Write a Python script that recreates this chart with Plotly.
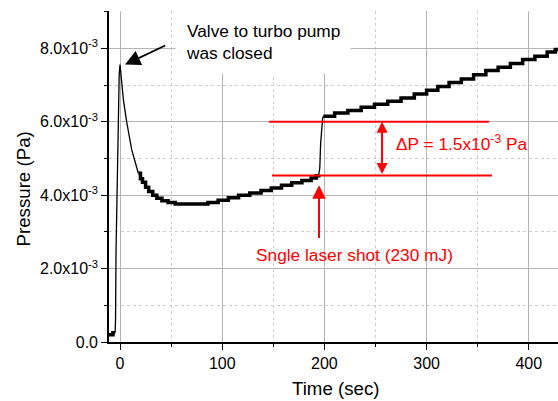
import plotly.graph_objects as go

# ---------------- data ----------------
# baseline before the valve closed
base_time = [-10.8, -7.0, -4.8]
base_p = [0.20e-3, 0.25e-3, 0.25e-3]

# fast transient: rise and decay after closing the valve
rise_time = [-4.8, -4.4, -3.9, -2.6, -1.7, -0.8, 0.0, 1.5, 3.3, 6.5, 11.4, 17.9]
rise_p = [0.25e-3, 0.6e-3, 2.5e-3, 5.1e-3, 6.8e-3, 7.3e-3, 7.56e-3, 7.1e-3,
          6.6e-3, 6.0e-3, 5.24e-3, 4.6e-3]

# slow (stepped) recovery before the laser shot
slow1_time = [17.9, 20, 22, 25, 28, 32, 36, 41, 47, 54, 86, 96, 106, 116, 127,
              138, 148, 158, 168, 178, 187, 192, 194.5]
slow1_p = [4.6e-3, 4.45e-3, 4.35e-3, 4.22e-3, 4.1e-3, 4.0e-3, 3.92e-3, 3.85e-3,
           3.8e-3, 3.76e-3, 3.8e-3, 3.86e-3, 3.93e-3, 4.0e-3, 4.06e-3, 4.13e-3,
           4.2e-3, 4.27e-3, 4.34e-3, 4.4e-3, 4.47e-3, 4.53e-3, 4.56e-3]

# jump caused by the laser shot
jump_time = [194.5, 195.5, 196.3, 197.2, 198.2, 199]
jump_p = [4.56e-3, 4.75e-3, 5.4e-3, 5.9e-3, 6.08e-3, 6.15e-3]

# slow (stepped) rise after the shot
slow2_time = [199, 210, 223, 236, 249, 262, 275, 288, 300, 311, 322, 334, 346,
              358, 370, 382, 394, 406, 418, 426, 430]
slow2_p = [6.15e-3, 6.24e-3, 6.31e-3, 6.40e-3, 6.48e-3, 6.56e-3, 6.65e-3,
           6.76e-3, 6.86e-3, 6.96e-3, 7.07e-3, 7.17e-3, 7.28e-3, 7.40e-3,
           7.49e-3, 7.59e-3, 7.70e-3, 7.79e-3, 7.90e-3, 7.97e-3, 7.97e-3]

# axis ticks
x_ticks = [0, 100, 200, 300, 400]
y_tickvals = [0, 2e-3, 4e-3, 6e-3, 8e-3]
y_ticktext = ["0.0", "2.0x10<sup>-3</sup>", "4.0x10<sup>-3</sup>",
              "6.0x10<sup>-3</sup>", "8.0x10<sup>-3</sup>"]

# markers of the pressure step
p_before = 4.54e-3
p_after = 6.0e-3
t_shot = 194.7

FONT = "Arial, 'Liberation Sans', sans-serif"
RED = "#ff0000"

fig = go.Figure()

# thick stepped traces
thick_t = base_time + [None] + slow1_time + [None] + slow2_time
thick_p = base_p + [None] + slow1_p + [None] + slow2_p
fig.add_trace(go.Scatter(x=thick_t, y=thick_p, mode="lines",
                         line=dict(color="black", width=3.5, shape="hv"),
                         connectgaps=False, hoverinfo="skip"))
# thin fast-changing traces
thin_t = rise_time + [None] + jump_time
thin_p = rise_p + [None] + jump_p
fig.add_trace(go.Scatter(x=thin_t, y=thin_p, mode="lines",
                         line=dict(color="black", width=1.3),
                         connectgaps=False, hoverinfo="skip"))

# red reference lines
fig.add_shape(type="line", x0=145.8, x1=361, y0=p_after, y1=p_after,
              xref="x", yref="y", line=dict(color=RED, width=2))
fig.add_shape(type="line", x0=148.7, x1=364, y0=p_before, y1=p_before,
              xref="x", yref="y", line=dict(color=RED, width=2))

# double arrow (delta P)
fig.add_annotation(x=256.4, y=p_after, ax=256.4, ay=p_before, xref="x", yref="y",
                   axref="x", ayref="y", text="", showarrow=True,
                   arrowhead=2, startarrowhead=2, arrowside="end+start",
                   arrowsize=1.1, startarrowsize=1.1, arrowwidth=2, arrowcolor=RED)
# up arrow to laser shot
fig.add_annotation(x=t_shot, y=4.27e-3, ax=t_shot, ay=2.79e-3, xref="x", yref="y",
                   axref="x", ayref="y", text="", showarrow=True,
                   arrowhead=2, arrowsize=1.35, arrowwidth=2, arrowcolor=RED)
# black arrow to the peak
fig.add_annotation(x=4.9, y=7.56e-3, ax=45.7, ay=8.1e-3, xref="x", yref="y",
                   axref="x", ayref="y", text="", showarrow=True,
                   arrowhead=2, arrowsize=1.7, arrowwidth=1.8, arrowcolor="black")

# texts
fig.add_annotation(x=53.8, y=8.18e-3, xref="x", yref="y", xanchor="left",
                   yanchor="middle", align="left", showarrow=False,
                   text="Valve to turbo pump<br>was closed",
                   font=dict(family=FONT, size=17.3, color="black"),
                   bgcolor="white", borderpad=10)
fig.add_annotation(x=229.4, y=2.38e-3, xref="x", yref="y", xanchor="center",
                   yanchor="middle", showarrow=False,
                   text="Sngle laser shot (230 mJ)",
                   font=dict(family=FONT, size=17.3, color=RED))
fig.add_annotation(x=268, y=5.43e-3, xref="x", yref="y", xanchor="left",
                   yanchor="middle", showarrow=False,
                   text="\u0394P = 1.5x10<sup>-3</sup> Pa",
                   font=dict(family=FONT, size=17.3, color=RED))

# axis titles
fig.add_annotation(x=-0.1893, y=0.4607, xref="paper", yref="paper",
                   xanchor="center", yanchor="middle", textangle=-90,
                   showarrow=False, text="Pressure (Pa)",
                   font=dict(family=FONT, size=18.7, color="black"))
fig.add_annotation(x=0.505, y=-0.139, xref="paper", yref="paper",
                   xanchor="center", yanchor="middle", showarrow=False,
                   text="Time (sec)",
                   font=dict(family=FONT, size=18.7, color="black"))

fig.update_layout(
    width=558, height=401,
    margin=dict(l=109, r=0, t=11, b=59, pad=0),
    paper_bgcolor="white", plot_bgcolor="white",
    showlegend=False,
    font=dict(family=FONT, size=16, color="black"),
    xaxis=dict(range=[-10.8, 428.6], tickmode="array", tickvals=x_ticks,
               ticks="outside", ticklen=6, tickwidth=1.2, tickcolor="black",
               showline=True, linecolor="black", linewidth=1.6,
               showgrid=True, gridcolor="#b4b4b4", gridwidth=1,
               zeroline=False, tickfont=dict(size=16, family=FONT),
               minor=dict(dtick=50, tick0=0, ticks="outside", ticklen=3.5,
                          tickcolor="black", tickwidth=1.2, showgrid=True,
                          gridcolor="#cfcfcf", griddash="dot", gridwidth=1)),
    yaxis=dict(range=[0, 9.02e-3], tickmode="array", tickvals=y_tickvals,
               ticktext=y_ticktext,
               ticks="outside", ticklen=6, tickwidth=1.2, tickcolor="black",
               showline=True, linecolor="black", linewidth=1.6,
               showgrid=True, gridcolor="#b4b4b4", gridwidth=1,
               zeroline=False, tickfont=dict(size=16, family=FONT),
               minor=dict(dtick=1e-3, tick0=0, ticks="outside", ticklen=3.5,
                          tickcolor="black", tickwidth=1.2, showgrid=True,
                          gridcolor="#cfcfcf", griddash="dot", gridwidth=1)),
)

fig.write_html("out.html", config={"displayModeBar": False},
               post_script="document.body.style.margin='0';document.body.style.overflow='hidden';")
